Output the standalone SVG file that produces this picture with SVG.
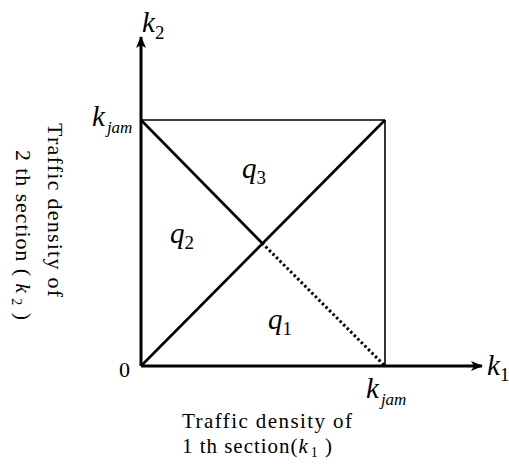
<svg xmlns="http://www.w3.org/2000/svg" width="509" height="468" viewBox="0 0 509 468">
<style>
text{font-family:"Liberation Serif","Times New Roman",Times,serif;fill:#000}
.i{font-style:italic}
.ax{stroke:#000;stroke-width:3;fill:none}
.thin{stroke:#000;stroke-width:1.6;fill:none}
.dg{stroke:#000;stroke-width:2.6;fill:none}
.dot{stroke:#000;stroke-width:3;fill:none;stroke-dasharray:2.5 2.5}
</style>
<defs>
<marker id="ah" viewBox="0 0 12 10" refX="11" refY="5" markerWidth="12" markerHeight="10" markerUnits="userSpaceOnUse" orient="auto">
<path d="M0,0 L12,5 L0,10 L3,5 Z" fill="#000"/>
</marker>
</defs>
<rect width="509" height="468" fill="#fff"/>
<g id="connectors">
<line class="ax" x1="141" y1="366" x2="141" y2="37" marker-end="url(#ah)"/>
<line class="ax" x1="141" y1="366" x2="482" y2="366" marker-end="url(#ah)"/>
<line class="thin" x1="141" y1="120" x2="385" y2="120"/>
<line class="thin" x1="385" y1="120" x2="385" y2="366"/>
<line class="dg" x1="141" y1="366" x2="385" y2="120"/>
<line class="dg" x1="141" y1="120" x2="262" y2="243"/>
<line class="dot" x1="262" y1="243" x2="385" y2="366"/>
</g>
<g id="label-k2"><text x="142" y="32" font-size="29"><tspan class="i">k</tspan><tspan font-size="19" dy="7">2</tspan></text></g>
<g id="label-k1"><text x="487" y="375" font-size="29"><tspan class="i">k</tspan><tspan font-size="19" dy="6">1</tspan></text></g>
<g id="label-kjam-left"><text class="i" x="92" y="126" font-size="29">k<tspan font-size="17" dy="7" dx="2">jam</tspan></text></g>
<g id="label-kjam-bottom"><text class="i" x="366" y="398" font-size="29">k<tspan font-size="17" dy="7" dx="2">jam</tspan></text></g>
<g id="label-zero"><text x="119" y="377" font-size="22">0</text></g>
<g id="region-q3"><text x="242" y="178" font-size="29"><tspan class="i">q</tspan><tspan font-size="19" dy="6">3</tspan></text></g>
<g id="region-q2"><text x="170" y="243" font-size="29"><tspan class="i">q</tspan><tspan font-size="19" dy="6">2</tspan></text></g>
<g id="region-q1"><text x="268" y="329" font-size="29"><tspan class="i">q</tspan><tspan font-size="19" dy="6">1</tspan></text></g>
<g id="xlabel">
<text x="182" y="428" font-size="21" textLength="170" lengthAdjust="spacing">Traffic density of</text>
<text x="182" y="453" font-size="21" textLength="150" lengthAdjust="spacing">1  th section(<tspan class="i">k</tspan><tspan font-size="14" dy="4" dx="2">1</tspan><tspan dy="-4"> )</tspan></text>
</g>
<g id="ylabel">
<text font-size="22" transform="translate(48,123) rotate(90)" textLength="174" lengthAdjust="spacing">Traffic density of</text>
<text font-size="22" transform="translate(16,150) rotate(90)" textLength="170" lengthAdjust="spacing">2  th section ( <tspan class="i">k</tspan><tspan font-size="14" dy="4"> 2</tspan><tspan dy="-4"> )</tspan></text>
</g>
</svg>
